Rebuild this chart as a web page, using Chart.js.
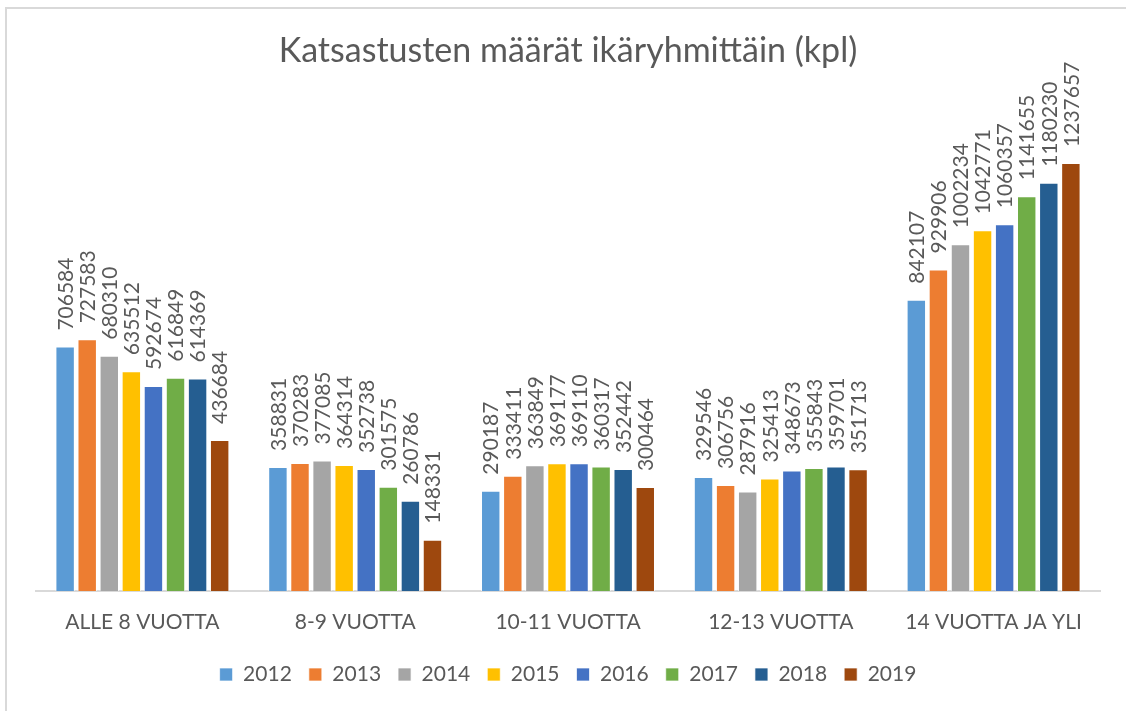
<!DOCTYPE html>
<html lang="fi">
<head>
<meta charset="utf-8">
<title>Katsastusten määrät ikäryhmittäin</title>
<script src="https://cdn.jsdelivr.net/npm/chart.js@4/dist/chart.umd.min.js"></script>
<style>
    body { margin: 0; background: #fff; overflow: hidden; }
    #wrap { position: relative; width: 1126px; height: 711px; }
    #frame {
        position: absolute; left: 5px; top: 7px; width: 1200px; height: 800px;
        border-left: 2px solid #d9d9d9; border-top: 2px solid #d9d9d9;
        pointer-events: none;
    }
</style>
</head>
<body>
<div id="wrap">
    <canvas id="chart" width="1126" height="711"></canvas>
    <div id="frame"></div>
</div>
<script>
// Chart data
const categories = ['ALLE 8 VUOTTA', '8-9 VUOTTA', '10-11 VUOTTA', '12-13 VUOTTA', '14 VUOTTA JA YLI'];
const years = ['2012', '2013', '2014', '2015', '2016', '2017', '2018', '2019'];
const v2012 = [706584, 358831, 290187, 329546, 842107];
const v2013 = [727583, 370283, 333411, 306756, 929906];
const v2014 = [680310, 377085, 363849, 287916, 1002234];
const v2015 = [635512, 364314, 369177, 325413, 1042771];
const v2016 = [592674, 352738, 369110, 348673, 1060357];
const v2017 = [616849, 301575, 360317, 355843, 1141655];
const v2018 = [614369, 260786, 352442, 359701, 1180230];
const v2019 = [436684, 148331, 300464, 351713, 1237657];
const colors = ['#5B9BD5', '#ED7D31', '#A5A5A5', '#FFC000', '#4472C4', '#70AD47', '#255E91', '#9E480E'];

const seriesValues = [v2012, v2013, v2014, v2015, v2016, v2017, v2018, v2019];
const textColor = '#595959';
const fontFamily = 'Lato, "Open Sans", sans-serif';

// Vertical value labels above every bar
const barLabels = {
    id: 'barLabels',
    afterDatasetsDraw(chart) {
        const ctx = chart.ctx;
        ctx.save();
        ctx.font = '21px ' + fontFamily;
        ctx.fillStyle = textColor;
        ctx.textAlign = 'left';
        ctx.textBaseline = 'middle';
        chart.data.datasets.forEach((ds, i) => {
            const meta = chart.getDatasetMeta(i);
            meta.data.forEach((bar, j) => {
                ctx.save();
                ctx.translate(bar.x + 1, bar.y - 16);
                ctx.rotate(-Math.PI / 2);
                ctx.fillText(String(ds.data[j]), 0, 0);
                ctx.restore();
            });
        });
        ctx.restore();
    }
};

const datasets = years.map((year, i) => ({
    label: year,
    data: seriesValues[i],
    backgroundColor: colors[i],
    borderColor: 'rgba(255,255,255,0.7)',
    borderWidth: 1,
    categoryPercentage: 0.83,
    barPercentage: 0.88
}));

const ctx = document.getElementById('chart').getContext('2d');
new Chart(ctx, {
    type: 'bar',
    data: { labels: categories, datasets: datasets },
    plugins: [barLabels],
    options: {
        responsive: false,
        animation: false,
        layout: { padding: { left: 36, right: 26, top: 0, bottom: 16 } },
        plugins: {
            title: {
                display: true,
                text: 'Katsastusten määrät ikäryhmittäin (kpl)',
                color: textColor,
                font: { family: fontFamily, size: 34, weight: 'normal' },
                padding: { top: 31, bottom: 35 }
            },
            legend: {
                position: 'bottom',
                labels: {
                    color: textColor,
                    font: { family: fontFamily, size: 21 },
                    boxWidth: 13,
                    boxHeight: 13,
                    padding: 17
                }
            },
            tooltip: { enabled: false }
        },
        scales: {
            x: {
                grid: { display: false },
                border: { display: true, color: '#d9d9d9', width: 2 },
                ticks: {
                    color: textColor,
                    font: { family: fontFamily, size: 21 },
                    padding: 11,
                    maxRotation: 0
                },
                afterFit(scale) { scale.height = 56; }
            },
            y: {
                display: false,
                min: 0,
                max: 1400000
            }
        }
    }
});
</script>
</body>
</html>
